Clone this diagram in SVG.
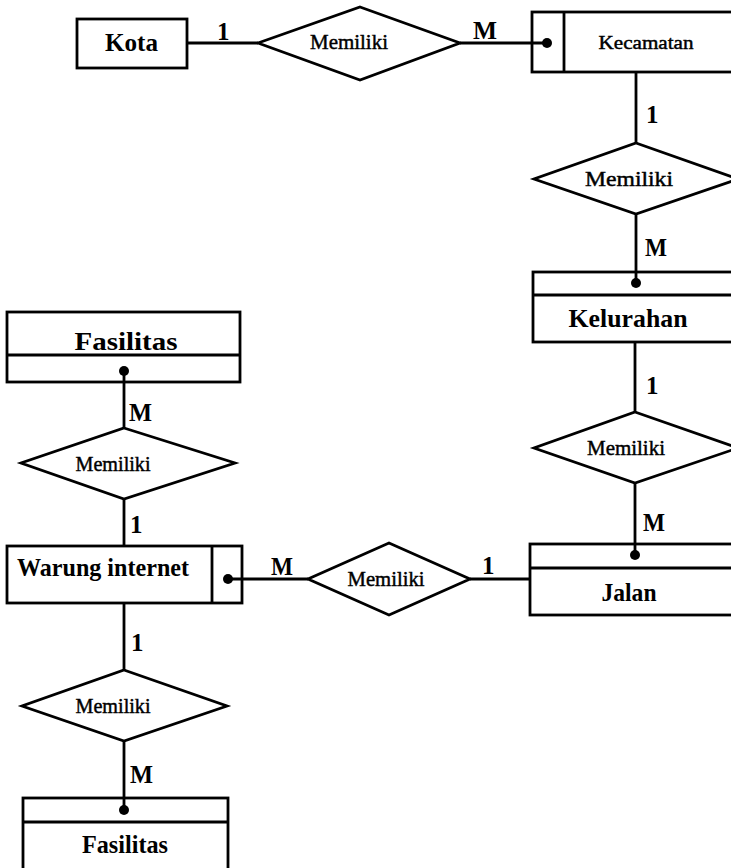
<svg xmlns="http://www.w3.org/2000/svg" width="731" height="868" viewBox="0 0 731 868">
  <style>
    .box { fill: #fff; stroke: #000; stroke-width: 2.8; }
    .sep { fill: none; stroke: #000; stroke-width: 2.8; }
    .rel { fill: #fff; stroke: #000; stroke-width: 2.8; stroke-linejoin: miter; }
    .link { fill: none; stroke: #000; stroke-width: 2.8; }
    .dot { fill: #000; }
    text { font-family: "Liberation Serif", "Times New Roman", serif; fill: #000; }
    .ent { font-size: 26px; font-weight: bold; text-anchor: middle; }
    .rtx { font-size: 21px; text-anchor: middle; stroke: #000; stroke-width: 0.45; }
    .card { font-size: 25px; font-weight: bold; }
  </style>
  <rect width="731" height="868" fill="#fff"/>

  <!-- entities -->
  <g id="kota">
    <rect class="box" x="77" y="19" width="110" height="49"/>
    <text class="ent" x="131.5" y="51" textLength="53" lengthAdjust="spacingAndGlyphs">Kota</text>
  </g>
  <g id="kecamatan">
    <rect class="box" x="532" y="12" width="210" height="60"/>
    <line class="sep" x1="564" y1="12" x2="564" y2="72"/>
    <text class="rtx" style="font-size:19px" x="646" y="49" textLength="95" lengthAdjust="spacingAndGlyphs">Kecamatan</text>
  </g>
  <g id="kelurahan">
    <rect class="box" x="533" y="272" width="210" height="70"/>
    <line class="sep" x1="533" y1="295" x2="743" y2="295"/>
    <text class="ent" x="628" y="327" textLength="119" lengthAdjust="spacingAndGlyphs">Kelurahan</text>
  </g>
  <g id="jalan">
    <rect class="box" x="530" y="544" width="210" height="71"/>
    <line class="sep" x1="530" y1="568" x2="740" y2="568"/>
    <text class="ent" x="629" y="601" textLength="55" lengthAdjust="spacingAndGlyphs">Jalan</text>
  </g>
  <g id="warung-internet">
    <rect class="box" x="7" y="546" width="235" height="57"/>
    <line class="sep" x1="212" y1="546" x2="212" y2="603"/>
    <text class="ent" style="text-anchor:start" x="17" y="576" textLength="172" lengthAdjust="spacingAndGlyphs">Warung internet</text>
  </g>
  <g id="fasilitas-atas">
    <rect class="box" x="7" y="312" width="233" height="70"/>
    <line class="sep" x1="7" y1="355" x2="240" y2="355"/>
    <text class="ent" x="126" y="350" textLength="103" lengthAdjust="spacingAndGlyphs">Fasilitas</text>
  </g>
  <g id="fasilitas-bawah">
    <rect class="box" x="23" y="798" width="205" height="90"/>
    <line class="sep" x1="23" y1="822" x2="228" y2="822"/>
    <text class="ent" x="125" y="853" textLength="86" lengthAdjust="spacingAndGlyphs">Fasilitas</text>
  </g>

  <!-- relationships -->
  <g id="rel-kota-kecamatan">
    <polygon class="rel" points="360,7 460,43 360,80 258,43"/>
    <text class="rtx" x="349" y="49" textLength="78" lengthAdjust="spacingAndGlyphs">Memiliki</text>
  </g>
  <g id="rel-kecamatan-kelurahan">
    <polygon class="rel" points="636,143 738,179 636,214 534,179"/>
    <text class="rtx" x="629" y="186" textLength="88" lengthAdjust="spacingAndGlyphs">Memiliki</text>
  </g>
  <g id="rel-kelurahan-jalan">
    <polygon class="rel" points="635,412 738,448 635,483 534,448"/>
    <text class="rtx" x="626" y="455" textLength="78" lengthAdjust="spacingAndGlyphs">Memiliki</text>
  </g>
  <g id="rel-jalan-warung">
    <polygon class="rel" points="389,543 470,579 389,615 308,579"/>
    <text class="rtx" x="386" y="586" textLength="77" lengthAdjust="spacingAndGlyphs">Memiliki</text>
  </g>
  <g id="rel-warung-fasilitas-atas">
    <polygon class="rel" points="124,428 235,463 124,499 21,463"/>
    <text class="rtx" x="113" y="471" textLength="75" lengthAdjust="spacingAndGlyphs">Memiliki</text>
  </g>
  <g id="rel-warung-fasilitas-bawah">
    <polygon class="rel" points="124,670 227,706 124,741 22,706"/>
    <text class="rtx" x="113" y="713" textLength="75" lengthAdjust="spacingAndGlyphs">Memiliki</text>
  </g>

  <!-- connectors, drawn over the boxes so the dots show -->
  <g id="connectors">
    <line class="link" x1="187" y1="43" x2="258" y2="43"/>
    <line class="link" x1="460" y1="43" x2="547" y2="43"/>
    <line class="link" x1="636" y1="72" x2="636" y2="143"/>
    <line class="link" x1="636" y1="214" x2="636" y2="283"/>
    <line class="link" x1="635" y1="342" x2="635" y2="412"/>
    <line class="link" x1="635" y1="483" x2="635" y2="555"/>
    <line class="link" x1="470" y1="579" x2="530" y2="579"/>
    <line class="link" x1="228" y1="579" x2="308" y2="579"/>
    <line class="link" x1="124" y1="371" x2="124" y2="428"/>
    <line class="link" x1="124" y1="499" x2="124" y2="546"/>
    <line class="link" x1="124" y1="603" x2="124" y2="670"/>
    <line class="link" x1="124" y1="741" x2="124" y2="810"/>
    <circle class="dot" cx="547" cy="43" r="5"/>
    <circle class="dot" cx="636" cy="283" r="5"/>
    <circle class="dot" cx="635" cy="555" r="5"/>
    <circle class="dot" cx="228" cy="579" r="5"/>
    <circle class="dot" cx="124" cy="371" r="5"/>
    <circle class="dot" cx="124" cy="810" r="5"/>
    <!-- cardinalities -->
    <text class="card" x="217" y="40">1</text>
    <text class="card" x="473" y="39" textLength="24" lengthAdjust="spacingAndGlyphs">M</text>
    <text class="card" x="646" y="123">1</text>
    <text class="card" x="645" y="256" textLength="22" lengthAdjust="spacingAndGlyphs">M</text>
    <text class="card" x="646" y="394">1</text>
    <text class="card" x="643" y="531" textLength="22" lengthAdjust="spacingAndGlyphs">M</text>
    <text class="card" x="482" y="574">1</text>
    <text class="card" x="271" y="575" textLength="22" lengthAdjust="spacingAndGlyphs">M</text>
    <text class="card" x="129" y="421" textLength="23" lengthAdjust="spacingAndGlyphs">M</text>
    <text class="card" x="130" y="533">1</text>
    <text class="card" x="131" y="651">1</text>
    <text class="card" x="130" y="783" textLength="23" lengthAdjust="spacingAndGlyphs">M</text>
  </g>
</svg>
